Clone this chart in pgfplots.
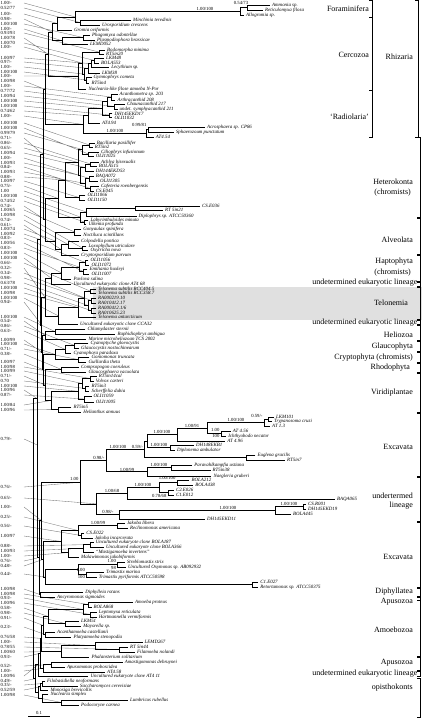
\documentclass[border=0pt]{standalone}
\usepackage{fontspec}
\setmainfont{Liberation Serif}
\usepackage{pgfplots}
\pgfplotsset{compat=1.18}
\newcommand\ftax{\fontsize{4.9}{5.5}\selectfont\itshape}
\newcommand\fsup{\fontsize{4.7}{5.5}\selectfont}
\newcommand\fgrp{\fontsize{8}{9}\selectfont}
\tikzset{tax/.style={anchor=west,inner sep=0pt,font=\ftax},
 sup/.style={anchor=west,inner sep=0pt,font=\fsup},
 brl/.style={inner sep=0.4pt,font=\fsup},
 grp/.style={anchor=east,inner sep=0pt,font=\fgrp}}
\newcommand\tx[3]{\node[tax] at (axis cs:#2,#1) {#3};}
\newcommand\sv[2]{\node[sup] at (axis cs:0.5,#1) {#2};}
\newcommand\brl[4]{\node[brl,anchor=#4] at (axis cs:#1,#2) {#3};}
\newcommand\gr[3]{\node[grp] at (axis cs:#1,#2) {#3};}
\begin{document}
\begin{tikzpicture}
\begin{axis}[scale only axis, width=422pt, height=718pt,
  xmin=0, xmax=422, ymin=0, ymax=718, y dir=reverse,
  hide axis, clip=false, unbounded coords=jump]
\addplot[draw=none] coordinates {(0,0)(422,718)};
% Telonemia band
\addplot[fill=black!12,draw=none] coordinates {(93,287)(422,287)(422,320)(93,320)} --cycle;
% leader lines
\addplot[black!55, line width=0.35pt] coordinates {
(24,3)(75,16.9)(nan,nan)(24,8)(80,22.5)(nan,nan)(24,14)(57,23.4)(nan,nan)
(24,19)(52,32.1)(nan,nan)(24,24)(83,37.5)(nan,nan)(24,29)(62,40.75)(nan,nan)
(24,33)(98.8,52)(nan,nan)(24,38)(48,54.1)(nan,nan)(24,43)(94.6,60.5)(nan,nan)
(24,47)(82.2,63.1)(nan,nan)(24,58)(91.5,63.75)(nan,nan)(24,62)(88.4,68.4)(nan,nan)
(24,67)(84.2,74.2)(nan,nan)(24,72)(86.3,80)(nan,nan)(24,76)(78,76.05)(nan,nan)
(24,81)(45,89.3)(nan,nan)(24,86)(111.3,97)(nan,nan)(24,91)(107.1,101.75)(nan,nan)
(24,96)(114.4,106.5)(nan,nan)(24,101)(101.9,108.4)(nan,nan)(24,106)(109.2,115)(nan,nan)
(24,111)(88.4,115.7)(nan,nan)(24,116)(83.2,124.5)(nan,nan)(24,123)(89.4,145)(nan,nan)
(24,128)(88.4,154)(nan,nan)(24,133)(82.2,149.5)(nan,nan)(24,138)(43.3,154.5)(nan,nan)
(24,143)(90.5,164)(nan,nan)(24,148)(78,162.5)(nan,nan)(24,153)(85.3,167.5)(nan,nan)
(24,158)(89.4,178.5)(nan,nan)(24,163)(80.1,175.5)(nan,nan)(24,167)(90.5,188.5)(nan,nan)
(24,172)(85.3,183.5)(nan,nan)(24,177)(64.8,180)(nan,nan)(24,181)(79,197.5)(nan,nan)
(24,186)(58.2,198.5)(nan,nan)(24,191)(86.3,212)(nan,nan)(24,196)(80.1,217)(nan,nan)
(24,201)(84.2,222)(nan,nan)(24,206)(45,219.7)(nan,nan)(24,210)(74.7,232)(nan,nan)
(24,215)(82.2,248)(nan,nan)(24,220)(68.1,244.5)(nan,nan)(24,225)(61.5,249.75)(nan,nan)
(24,229)(54.9,240.9)(nan,nan)(24,234)(40.7,239.7)(nan,nan)(24,238)(85.3,262.5)(nan,nan)
(24,243)(83.2,271.5)(nan,nan)(24,248)(79,267)(nan,nan)(24,253)(61.5,273)(nan,nan)
(24,258)(51.6,278.5)(nan,nan)(24,263)(90,291)(nan,nan)(24,268)(45,297.2)(nan,nan)
(24,273)(91,300.5)(nan,nan)(24,278)(84,298.25)(nan,nan)(24,283)(88,305.5)(nan,nan)
(24,288)(91,310.5)(nan,nan)(24,293)(78,307.6)(nan,nan)(24,298)(58.2,315.8)(nan,nan)
(24,302)(41.6,324.85)(nan,nan)(24,317)(54.9,331.5)(nan,nan)(24,321)(45,335.25)(nan,nan)
(24,326)(74.7,345.5)(nan,nan)(24,331)(64.8,349.25)(nan,nan)(24,340)(42.4,352.5)(nan,nan)
(24,344)(54.9,354.4)(nan,nan)(24,349)(78,359.5)(nan,nan)(24,354)(61.5,369.5)(nan,nan)
(24,362)(43.3,369.7)(nan,nan)(24,367)(90.5,378.5)(nan,nan)(24,371)(82.2,383.5)(nan,nan)
(24,376)(45,385)(nan,nan)(24,381)(85.3,388.5)(nan,nan)(24,386)(78,391.25)(nan,nan)
(24,390)(37.3,398.65)(nan,nan)(24,395)(84.2,399)(nan,nan)(24,405)(51.6,400.4)(nan,nan)
(24,410)(58.2,409.5)(nan,nan)(24,439)(37.3,445)(nan,nan)(24,487)(80.1,482.2)(nan,nan)
(24,498)(96.7,503.9)(nan,nan)(24,507)(41.6,520.75)(nan,nan)(24,517)(78,530.5)(nan,nan)
(24,526)(81.1,535.5)(nan,nan)(24,536)(61.5,541.55)(nan,nan)(24,546)(90.5,544.5)(nan,nan)
(24,551)(83.2,548.25)(nan,nan)(24,556)(68.1,552.6)(nan,nan)(24,561)(39,557.6)(nan,nan)
(24,566)(43.3,559.3)(nan,nan)(24,574)(45,577)(nan,nan)(24,589)(39.9,594.5)(nan,nan)
(24,594)(88.4,604.5)(nan,nan)(24,598)(83.2,609.5)(nan,nan)(24,603)(90.5,614.5)(nan,nan)
(24,608)(48.3,616.5)(nan,nan)(24,613)(64.8,623.5)(nan,nan)(24,618)(43.3,625.5)(nan,nan)
(24,627)(45,634.5)(nan,nan)(24,637)(41.6,638.45)(nan,nan)(24,642)(95.7,645.75)(nan,nan)
(24,647)(119.6,649.5)(nan,nan)(24,652)(61.5,651.4)(nan,nan)(24,657)(39.9,653.35)(nan,nan)
(24,666)(51.6,664.5)(nan,nan)(24,671)(43.3,668.25)(nan,nan)(24,676)(38.1,664.7)(nan,nan)
(24,681)(35.6,678.6)(nan,nan)(24,685)(42.4,683.5)(nan,nan)(24,690)(40.7,686.75)(nan,nan)
(24,695)(61.5,702.5)
};
% tree
\addplot[black, line width=0.6pt] coordinates {
(270,5)(247,5)(247,10)(263,10)(nan,nan)
(247,7.5)(240,7.5)(240,15)(244,15)(nan,nan)
(131,20)(80,20)(80,25)(100,25)(nan,nan)
(240,11.25)(75,11.25)(75,22.5)(80,22.5)(nan,nan)
(75,16.9)(57,16.9)(57,30)(72,30)(nan,nan)
(90,35)(83,35)(83,40)(95,40)(nan,nan)
(83,37.5)(62,37.5)(62,44)(88,44)(nan,nan)
(57,23.4)(52,23.4)(52,40.75)(62,40.75)(nan,nan)
(105,50)(98.8,50)(98.8,54)(104,54)(nan,nan)
(104,58)(94.6,58)(94.6,63)(98.8,63)(nan,nan)
(94.6,60.5)(91.5,60.5)(91.5,67)(109.2,67)(nan,nan)
(91.5,63.75)(88.4,63.75)(88.4,73)(99.8,73)(nan,nan)
(91.5,77)(86.3,77)(86.3,83)(89.4,83)(nan,nan)
(88.4,68.4)(84.2,68.4)(84.2,80)(86.3,80)(nan,nan)
(98.8,52)(82.2,52)(82.2,74.2)(84.2,74.2)(nan,nan)
(82.2,63.1)(78,63.1)(78,89)(86.3,89)(nan,nan)
(52,32.1)(48,32.1)(48,76.05)(78,76.05)(nan,nan)
(117.5,94)(111.3,94)(111.3,100)(115.4,100)(nan,nan)
(124.8,104)(114.4,104)(114.4,109)(117.5,109)(nan,nan)
(111.3,97)(107.1,97)(107.1,106.5)(114.4,106.5)(nan,nan)
(112.3,113)(109.2,113)(109.2,117)(112.3,117)(nan,nan)
(107.1,101.75)(101.9,101.75)(101.9,115)(109.2,115)(nan,nan)
(101.9,108.4)(88.4,108.4)(88.4,123)(99.8,123)(nan,nan)
(205,127)(148,127)(148,132)(173.8,132)(nan,nan)
(148,129.5)(146.5,129.5)(146.5,137)(153.7,137)(nan,nan)
(88.4,115.7)(83.2,115.7)(83.2,133.25)(146.5,133.25)(nan,nan)
(48,54.1)(45,54.1)(45,124.5)(83.2,124.5)(nan,nan)
(94.6,143)(89.4,143)(89.4,147)(92.6,147)(nan,nan)
(98.8,152)(88.4,152)(88.4,156)(93.6,156)(nan,nan)
(89.4,145)(82.2,145)(82.2,154)(88.4,154)(nan,nan)
(98.8,162)(90.5,162)(90.5,166)(96.7,166)(nan,nan)
(90.5,164)(85.3,164)(85.3,171)(93.6,171)(nan,nan)
(93.6,176)(89.4,176)(89.4,181)(97.8,181)(nan,nan)
(98.8,186)(90.5,186)(90.5,191)(93.6,191)(nan,nan)
(89.4,178.5)(85.3,178.5)(85.3,188.5)(90.5,188.5)(nan,nan)
(85.3,167.5)(80.1,167.5)(80.1,183.5)(85.3,183.5)(nan,nan)
(82.2,149.5)(78,149.5)(78,175.5)(80.1,175.5)(nan,nan)
(85.3,195)(79,195)(79,200)(85.3,200)(nan,nan)
(78,162.5)(64.8,162.5)(64.8,197.5)(79,197.5)(nan,nan)
(200,206)(135,206)(135,210)(163,210)(nan,nan)
(135,208)(86.3,208)(86.3,216)(136.5,216)(nan,nan)
(88.4,220)(84.2,220)(84.2,224)(86.3,224)(nan,nan)
(86.3,212)(80.1,212)(80.1,222)(84.2,222)(nan,nan)
(64.8,180)(58.2,180)(58.2,217)(80.1,217)(nan,nan)
(81.1,229)(74.7,229)(74.7,235)(81.1,235)(nan,nan)
(86.3,246)(82.2,246)(82.2,250)(88.4,250)(nan,nan)
(79,241)(68.1,241)(68.1,248)(82.2,248)(nan,nan)
(68.1,244.5)(61.5,244.5)(61.5,255)(79,255)(nan,nan)
(74.7,232)(54.9,232)(54.9,249.75)(61.5,249.75)(nan,nan)
(58.2,198.5)(45,198.5)(45,240.9)(54.9,240.9)(nan,nan)
(88.4,260)(85.3,260)(85.3,265)(89.4,265)(nan,nan)
(87.4,269)(83.2,269)(83.2,274)(89.4,274)(nan,nan)
(85.3,262.5)(79,262.5)(79,271.5)(83.2,271.5)(nan,nan)
(79,267)(61.5,267)(61.5,279)(71.4,279)(nan,nan)
(61.5,273)(51.6,273)(51.6,284)(71.4,284)(nan,nan)
(96,289)(90,289)(90,293)(96,293)(nan,nan)
(96,298)(91,298)(91,303)(96,303)(nan,nan)
(96,308)(91,308)(91,313)(96,313)(nan,nan)
(91,300.5)(88,300.5)(88,310.5)(91,310.5)(nan,nan)
(90,291)(84,291)(84,305.5)(88,305.5)(nan,nan)
(84,298.25)(78,298.25)(78,317)(96,317)(nan,nan)
(78,307.6)(58.2,307.6)(58.2,324)(78,324)(nan,nan)
(51.6,278.5)(45,278.5)(45,315.8)(58.2,315.8)(nan,nan)
(85.3,329)(54.9,329)(54.9,334)(115.4,334)(nan,nan)
(54.9,331.5)(45,331.5)(45,339)(86.3,339)(nan,nan)
(88.4,343)(74.7,343)(74.7,348)(79,348)(nan,nan)
(74.7,345.5)(64.8,345.5)(64.8,353)(71.4,353)(nan,nan)
(89.4,357)(78,357)(78,362)(86.3,362)(nan,nan)
(64.8,349.25)(54.9,349.25)(54.9,359.5)(78,359.5)(nan,nan)
(79,367)(61.5,367)(61.5,372)(86.3,372)(nan,nan)
(96.7,376)(90.5,376)(90.5,381)(93.6,381)(nan,nan)
(89.4,386)(85.3,386)(85.3,391)(89.4,391)(nan,nan)
(90.5,378.5)(82.2,378.5)(82.2,388.5)(85.3,388.5)(nan,nan)
(91.5,396)(84.2,396)(84.2,402)(93.6,402)(nan,nan)
(82.2,383.5)(78,383.5)(78,399)(84.2,399)(nan,nan)
(71.4,407)(58.2,407)(58.2,412)(81.1,412)(nan,nan)
(78,391.25)(51.6,391.25)(51.6,409.5)(58.2,409.5)(nan,nan)
(61.5,369.5)(45,369.5)(45,400.4)(51.6,400.4)(nan,nan)
(54.9,354.4)(43.3,354.4)(43.3,385)(45,385)(nan,nan)
(45,335.25)(42.4,335.25)(42.4,369.7)(43.3,369.7)(nan,nan)
(45,297.2)(41.6,297.2)(41.6,352.5)(42.4,352.5)(nan,nan)
(45,89.3)(43.3,89.3)(43.3,219.7)(45,219.7)(nan,nan)
(43.3,154.5)(40.7,154.5)(40.7,324.85)(41.6,324.85)(nan,nan)
(274,417)(268,417)(268,421)(272,421)(nan,nan)
(268,419)(264,419)(264,426)(270,426)(nan,nan)
(230.7,431)(221.5,431)(221.5,436)(226.1,436)(nan,nan)
(264,422.5)(207.75,422.5)(207.75,433.5)(221.5,433.5)(nan,nan)
(207.75,428)(177.5,428)(177.5,441)(225.2,441)(nan,nan)
(194,445)(170.2,445)(170.2,450)(174.8,450)(nan,nan)
(177.5,434.5)(147.5,434.5)(147.5,447.5)(170.2,447.5)(nan,nan)
(255.4,455)(246.25,455)(246.25,460)(285,460)(nan,nan)
(147.5,441)(144,441)(144,457.5)(246.25,457.5)(nan,nan)
(192.2,465)(171.1,465)(171.1,470)(210.5,470)(nan,nan)
(171.1,467.5)(147.5,467.5)(147.5,476)(211.4,476)(nan,nan)
(144,449.25)(106.1,449.25)(106.1,471.75)(147.5,471.75)(nan,nan)
(189.4,480)(177.5,480)(177.5,485)(193.1,485)(nan,nan)
(173.8,490)(168.3,490)(168.3,495)(173.8,495)(nan,nan)
(177.5,482.5)(159.2,482.5)(159.2,492.5)(168.3,492.5)(nan,nan)
(159.2,487.5)(126.9,487.5)(126.9,499)(335,499)(nan,nan)
(306,504)(303,504)(303,509)(306,509)(nan,nan)
(303,506.5)(275,506.5)(275,514)(291,514)(nan,nan)
(275,510.25)(119.6,510.25)(119.6,519)(205,519)(nan,nan)
(126.9,493.25)(96.7,493.25)(96.7,514.6)(119.6,514.6)(nan,nan)
(106.1,460.5)(80.1,460.5)(80.1,503.9)(96.7,503.9)(nan,nan)
(124.8,523)(117.5,523)(117.5,528)(127.9,528)(nan,nan)
(84.2,533)(81.1,533)(81.1,538)(92.6,538)(nan,nan)
(117.5,525.5)(78,525.5)(78,535.5)(81.1,535.5)(nan,nan)
(93.6,542)(90.5,542)(90.5,547)(104,547)(nan,nan)
(90.5,544.5)(83.2,544.5)(83.2,552)(93.6,552)(nan,nan)
(83.2,548.25)(68.1,548.25)(68.1,557)(79,557)(nan,nan)
(78,530.5)(61.5,530.5)(61.5,552.6)(68.1,552.6)(nan,nan)
(124.8,562)(117.5,562)(117.5,567)(125.8,567)(nan,nan)
(104,572)(86.3,572)(86.3,577)(96.7,577)(nan,nan)
(117.5,564.5)(78,564.5)(78,574.5)(86.3,574.5)(nan,nan)
(258.2,582)(252.7,582)(252.7,587)(258.2,587)(nan,nan)
(78,569.5)(45,569.5)(45,584.5)(252.7,584.5)(nan,nan)
(61.5,541.55)(43.3,541.55)(43.3,577)(45,577)(nan,nan)
(80.1,482.2)(41.6,482.2)(41.6,559.3)(43.3,559.3)(nan,nan)
(83.2,592)(39.9,592)(39.9,597)(54.9,597)(nan,nan)
(41.6,520.75)(39,520.75)(39,594.5)(39.9,594.5)(nan,nan)
(40.7,239.7)(37.3,239.7)(37.3,557.6)(39,557.6)(nan,nan)
(133,602)(88.4,602)(88.4,607)(91.5,607)(nan,nan)
(96.7,612)(90.5,612)(90.5,617)(96.7,617)(nan,nan)
(88.4,604.5)(83.2,604.5)(83.2,614.5)(90.5,614.5)(nan,nan)
(79,621)(64.8,621)(64.8,626)(81.1,626)(nan,nan)
(83.2,609.5)(48.3,609.5)(48.3,623.5)(64.8,623.5)(nan,nan)
(54.9,632)(45,632)(45,637)(71.4,637)(nan,nan)
(48.3,616.5)(43.3,616.5)(43.3,634.5)(45,634.5)(nan,nan)
(127.9,647)(119.6,647)(119.6,652)(135,652)(nan,nan)
(142.5,642)(95.7,642)(95.7,649.5)(119.6,649.5)(nan,nan)
(95.7,645.75)(61.5,645.75)(61.5,657)(89.4,657)(nan,nan)
(43.3,625.5)(41.6,625.5)(41.6,651.4)(61.5,651.4)(nan,nan)
(122.7,662)(51.6,662)(51.6,667)(64.8,667)(nan,nan)
(51.6,664.5)(43.3,664.5)(43.3,672)(105,672)(nan,nan)
(41.6,638.45)(39.9,638.45)(39.9,668.25)(43.3,668.25)(nan,nan)
(39.9,653.35)(38.1,653.35)(38.1,676)(88.4,676)(nan,nan)
(45,681)(42.4,681)(42.4,686)(78,686)(nan,nan)
(42.4,683.5)(40.7,683.5)(40.7,690)(48.3,690)(nan,nan)
(127.9,700)(61.5,700)(61.5,705)(79,705)(nan,nan)
(48.3,694)(42.4,694)(42.4,702.5)(61.5,702.5)(nan,nan)
(40.7,686.75)(38.1,686.75)(38.1,698.25)(42.4,698.25)(nan,nan)
(38.1,664.7)(35.6,664.7)(35.6,692.5)(38.1,692.5)(nan,nan)
(37.3,398.65)(33,398.65)(33,678.6)(35.6,678.6)
};
% brackets
\addplot[black, line width=0.6pt] coordinates {
(369,0.5)(372,0.5)(372,17)(369,17)(nan,nan)
(372,17.5)(372,90)(369,90)(nan,nan)
(372,90.5)(372,137)(369,137)(nan,nan)
(415,0.5)(418,0.5)(418,137)(415,137)(nan,nan)
(417,137.5)(420,137.5)(420,217.5)(417,217.5)(nan,nan)
(417,218.5)(420,218.5)(420,254.5)(417,254.5)(nan,nan)
(417,255.5)(420,255.5)(420,281.5)(417,281.5)(nan,nan)
(417,282.5)(420,282.5)(420,286.5)(417,286.5)(nan,nan)
(417,287.5)(420,287.5)(420,319.5)(417,319.5)(nan,nan)
(417,320.5)(420,320.5)(420,324.5)(417,324.5)(nan,nan)
(417,325.5)(420,325.5)(420,340)(417,340)(nan,nan)
(417,341)(420,341)(420,351.5)(417,351.5)(nan,nan)
(417,352.5)(420,352.5)(420,362)(417,362)(nan,nan)
(417,363)(420,363)(420,372.5)(417,372.5)(nan,nan)
(417,373.5)(420,373.5)(420,412.5)(417,412.5)(nan,nan)
(417,413.5)(420,413.5)(420,476.5)(417,476.5)(nan,nan)
(417,477.5)(420,477.5)(420,521.5)(417,521.5)(nan,nan)
(417,522.5)(420,522.5)(420,587.5)(417,587.5)(nan,nan)
(417,588.5)(420,588.5)(420,596)(417,596)(nan,nan)
(417,597.5)(420,597.5)(420,600)(417,600)(nan,nan)
(417,600.5)(420,600.5)(420,656.5)(417,656.5)(nan,nan)
(417,657.5)(420,657.5)(420,670.5)(417,670.5)(nan,nan)
(417,671.5)(420,671.5)(420,676.5)(417,676.5)(nan,nan)
(417,678)(420,678)(420,717)(417,717)
};
% scale bar
\addplot[black, line width=0.6pt] coordinates {(28,716)(50,716)};
\node[brl,anchor=south] at (axis cs:39,715) {0.1};
% group labels
\gr{369}{8.5}{Foraminifera}
\gr{369}{55}{Cercozoa}
\gr{369}{117}{‘Radiolaria’}
\gr{413}{57}{Rhizaria}
\gr{413}{182}{Heterokonta}
\gr{411}{193}{(chromists)}
\gr{413}{240}{Alveolata}
\gr{413}{262}{Haptophyta}
\gr{411}{273}{(chromists)}
\gr{417.5}{282.5}{undetermined eukaryotic lineage}
\gr{408}{303}{Telonemia}
\gr{417.5}{322.5}{undetermined eukaryotic lineage}
\gr{413}{335}{Heliozoa}
\gr{413}{347}{Glaucophyta}
\gr{413}{357.5}{Cryptophyta (chromists)}
\gr{410}{367.5}{Rhodophyta}
\gr{413}{393}{Viridiplantae}
\gr{413}{447}{Excavata}
\gr{413}{496}{undertermed}
\gr{413}{506}{lineage}
\gr{413}{557}{Excavata}
\gr{413}{592}{Diphyllatea}
\gr{413}{602}{Apusozoa}
\gr{413}{630}{Amoebozoa}
\gr{413}{663}{Apusozoa}
\gr{417.5}{673.5}{undetermined eukaryotic lineage}
\gr{413}{688}{opisthokonts}
% branch support labels on the tree
\brl{205}{11}{1.00/100}{south}
\brl{241}{5.5}{0.54/73}{south}
\brl{147}{127}{0.99/81}{south east}
\brl{115}{133}{1.00/100}{south}
\brl{263}{418}{0.59/-}{south east}
\brl{236}{422.5}{1.00/100}{south}
\brl{220}{432}{1.00}{south east}
\brl{220}{434}{100}{north east}
\brl{192}{428}{1.00/91}{south}
\brl{162}{434.5}{1.00/100}{south}
\brl{159}{447.5}{1.00/100}{south}
\brl{143.5}{449}{0.59/-}{south east}
\brl{118}{449.25}{1.00/100}{south}
\brl{159}{467.5}{1.00/100}{south}
\brl{127}{471.75}{1.00/99}{south}
\brl{105}{460}{0.98/-}{south east}
\brl{79}{481}{1.00}{south east}
\brl{176}{480}{1.00/100}{south east}
\brl{167}{494}{0.78/68}{north east}
\brl{143}{487.5}{1.00/100}{south}
\brl{112}{493.25}{1.00/68}{south}
\brl{228}{510.25}{1.00/100}{south}
\brl{289}{506.5}{1.00/100}{south}
\brl{108}{514.6}{0.98/-}{south}
\brl{98}{525.5}{1.00/99}{south}
\brl{116.5}{563}{1.00}{south east}
\brl{116.5}{566}{98}{north east}
\brl{85.5}{572}{1.00}{south east}
\brl{85.5}{575}{100}{north east}
% support values column
\sv{3}{1.00/-}\sv{8}{0.52/77}\sv{14}{1.00/-}\sv{19}{0.98/-}\sv{24}{1.00/100}
\sv{29}{1.00/-}\sv{33}{0.93/93}\sv{38}{1.00/78}\sv{43}{1.00/70}\sv{47}{1.00/-}
\sv{58}{1.00/97}\sv{62}{0.97/-}\sv{67}{1.00/-}\sv{72}{1.00/100}\sv{76}{1.00/-}
\sv{81}{1.00/98}\sv{86}{1.00/-}\sv{91}{0.77/72}\sv{96}{1.00/94}\sv{101}{1.00/100}
\sv{106}{1.00/100}\sv{111}{0.74/62}\sv{116}{1.00/-}\sv{123}{1.00/100}\sv{128}{1.00/100}
\sv{133}{0.99/79}\sv{138}{0.71/-}\sv{143}{0.86/-}\sv{148}{0.65/-}\sv{153}{1.00/94}
\sv{158}{1.00/-}\sv{163}{1.00/93}\sv{167}{0.84/-}\sv{172}{1.00/93}\sv{177}{0.88/-}
\sv{181}{1.00/97}\sv{186}{0.75/-}\sv{191}{1.00}\sv{196}{1.00/100}\sv{201}{0.74/52}
\sv{206}{0.74/-}\sv{210}{1.00/65}\sv{215}{1.00/98}\sv{220}{0.74/-}\sv{225}{0.61/-}
\sv{229}{1.00/74}\sv{234}{1.00/92}\sv{238}{0.83/-}\sv{243}{1.00/56}\sv{248}{0.83/-}
\sv{253}{1.00/100}\sv{258}{1.00/100}\sv{263}{0.66/-}\sv{268}{0.32/-}\sv{273}{0.34/-}
\sv{278}{0.98/-}\sv{283}{0.63/78}\sv{288}{1.00/100}\sv{293}{1.00/98}\sv{298}{1.00/100}
\sv{302}{0.94/-}\sv{317}{1.00/100}\sv{321}{0.54/-}\sv{326}{0.86/-}\sv{331}{0.63/-}
\sv{340}{1.00/99}\sv{344}{1.00/100}\sv{349}{0.71/-}\sv{354}{0.38/-}\sv{362}{1.00/97}
\sv{367}{1.00/98}\sv{371}{1.00/99}\sv{376}{0.71/-}\sv{381}{0.70}\sv{386}{1.00/100}
\sv{390}{1.00/96}\sv{395}{0.87/-}\sv{405}{1.00/84}\sv{410}{1.00/96}\sv{439}{0.79/-}
\sv{487}{0.76/-}\sv{498}{0.65/-}\sv{507}{1.00/-}\sv{517}{0.25/-}\sv{526}{0.56/-}
\sv{536}{1.00/97}\sv{546}{0.88/-}\sv{551}{1.00/93}\sv{556}{1.00/-}\sv{561}{0.76/-}
\sv{566}{0.48/-}\sv{574}{0.44/-}\sv{589}{1.00/98}\sv{594}{1.00/98}\sv{598}{0.93/-}
\sv{603}{1.00/96}\sv{608}{0.58/-}\sv{613}{0.98/-}\sv{618}{0.91/-}\sv{627}{0.23/-}
\sv{637}{0.76/58}\sv{642}{1.00/-}\sv{647}{0.78/55}\sv{652}{1.00/60}\sv{657}{0.93/-}
\sv{666}{0.52/-}\sv{671}{1.00/-}\sv{676}{1.00/96}\sv{681}{0.49/-}\sv{685}{0.35/-}
\sv{690}{0.52/59}\sv{695}{1.00/98}
% taxa
\tx{5}{272}{Ammonia sp.}
\tx{10}{265}{Reticulomyxa filosa}
\tx{15}{246}{Allogromia sp.}
\tx{20}{133}{Minchinia teredinis}
\tx{25}{102}{Urosporidium crescens}
\tx{30}{74}{Gromia oviformis}
\tx{35}{92}{Phagomyxa odontellae}
\tx{40}{97}{Plasmodiophora brassicae}
\tx{44}{90}{LEMD052}
\tx{50}{107}{Bodomorpha minima}
\tx{54}{106}{RT5in20}
\tx{58}{106}{LKM48}
\tx{63}{100.8}{BOLA553}
\tx{67}{111.2}{Lecythium sp.}
\tx{73}{101.8}{LKM38}
\tx{77}{93.5}{Gymnophrys cometa}
\tx{83}{91.4}{RT5in4}
\tx{89}{88.3}{Nuclearia-like filose amoeba N-Por}
\tx{94}{119.5}{Acanthometra sp. 203}
\tx{100}{117.4}{Arthracanthid 208}
\tx{104}{126.8}{Chaunacanthid 217}
\tx{109}{119.5}{undet. symphyacanthid 211}
\tx{113.5}{114.3}{DH145EKD17}
\tx{117.5}{114.3}{OLI11032}
\tx{123}{101.8}{AT4.94}
\tx{127}{207}{Acrosphaera sp. CP86}
\tx{132}{175.8}{Sphaerozoum punctatum}
\tx{137}{155.7}{AT4.54}
\tx{143}{96.6}{Bacillaria paxillifer}
\tx{147}{94.6}{RT5in2}
\tx{152}{100.8}{Ciliophrys infusionum}
\tx{156}{95.6}{OLI11025}
\tx{162}{100.8}{Achlya bisexualis}
\tx{166}{98.7}{BOLA515}
\tx{171}{95.6}{DH144EKD53}
\tx{176}{95.6}{BAQA072}
\tx{181}{99.8}{OLI11305}
\tx{186}{100.8}{Cafeteria roenbergensis}
\tx{191}{95.6}{CS.E045}
\tx{195}{87.3}{OLI11066}
\tx{200}{87.3}{OLI11150}
\tx{206}{202}{CS.E036}
\tx{210}{165}{RT 5in21}
\tx{216}{138.5}{Diplophrys sp. ATCC50360}
\tx{220}{90.4}{Labyrinthuloides minuta}
\tx{224}{88.3}{Ulkenia profunda}
\tx{229}{83.1}{Gonyaulax spinifera}
\tx{235}{83.1}{Noctiluca scintillans}
\tx{241}{81}{Colpodella pontica}
\tx{246}{88.3}{Loxophyllum utriculare}
\tx{250}{90.4}{Oxytricha nova}
\tx{255}{81}{Cryptosporidium parvum}
\tx{260}{90.4}{OLI11056}
\tx{265}{91.4}{OLI11072}
\tx{269}{89.4}{Emiliania huxleyi}
\tx{274}{91.4}{OLI11007}
\tx{279}{73.4}{Pavlova salina}
\tx{284}{73.4}{Uncultured eukaryotic clone AT4 68}
\tx{289}{98}{Telonema subtilis RCC404.5}
\tx{293}{98}{Telonema subtilis RCC358.7}
\tx{298}{98}{RA000219.10}
\tx{303}{98}{RA010412.17}
\tx{308}{98}{RA000412.1/6}
\tx{313}{98}{RA010625.23}
\tx{317}{98}{Telonema antarcticum}
\tx{324}{80}{Uncultured eukaryotic clone CCA32}
\tx{329}{87.3}{Chlamydaster sternii}
\tx{334}{117.4}{Raphidiophrys ambigua}
\tx{339}{88.3}{Marine microheliozoan TCS 2002}
\tx{343}{90.4}{Cyanoptyche gloeocystis}
\tx{348}{81}{Glaucocystis nostochinearum}
\tx{353}{73.4}{Cyanophora paradoxa}
\tx{357}{91.4}{Goniomonas truncata}
\tx{362}{88.3}{Guillardia theta}
\tx{367}{81}{Compsopogon coeruleus}
\tx{372}{88.3}{Glaucosphaera vacuolata}
\tx{376}{98.7}{RT5in14cal}
\tx{381}{95.6}{Volvox carteri}
\tx{386}{91.4}{RT5in3}
\tx{391}{91.4}{Scherffelia dubia}
\tx{396}{93.5}{OLI11059}
\tx{402}{95.6}{OLI11005}
\tx{407}{73.4}{RT5in5}
\tx{412}{83.1}{Helianthus annuus}
\tx{417}{276}{LKM101}
\tx{421}{274}{Trypanosoma cruzi}
\tx{426}{272}{AT 1.3}
\tx{431}{232.7}{AT 4.56}
\tx{436}{228.1}{Ichthyobodo necator}
\tx{441}{227.2}{AT 4.96}
\tx{445}{196}{DH148EKB1}
\tx{450}{176.8}{Diplonema ambulator}
\tx{455}{257.4}{Euglena gracilis}
\tx{460}{287}{RT5in7}
\tx{465}{194.2}{Paravahlkampfia ustiana}
\tx{470}{212.5}{RT5in38}
\tx{476}{213.4}{Naegleria gruberi}
\tx{480}{191.4}{BOLA212}
\tx{485}{195.1}{BOLA438}
\tx{490}{175.8}{C2.E026}
\tx{495}{175.8}{C1.E012}
\tx{499}{337}{BAQA065}
\tx{504}{308}{CS.R001}
\tx{509}{308}{DH145EKD19}
\tx{514}{293}{BOLA445}
\tx{519}{207}{DH145EKD11}
\tx{523}{126.8}{Jakoba libera}
\tx{528}{129.9}{Reclinomonas americana}
\tx{533}{86.2}{CS.E022}
\tx{538}{94.6}{Jakoba incarcerata}
\tx{542}{95.6}{Uncultured eukaryote clone BOLA187}
\tx{547}{106}{Uncultured eukaryote clone BOLA366}
\tx{552}{95.6}{“Mastigamoeba invertens”}
\tx{557}{81}{Malawimonas jakobiformis}
\tx{562}{126.8}{Streblomastix strix}
\tx{567}{127.8}{Uncultured Oxymonas sp. AB092932}
\tx{572}{106}{Trimastix marina}
\tx{577}{98.7}{Trimastix pyriformis ATCC50598}
\tx{582}{260.2}{C1.E027}
\tx{587}{260.2}{Retortamonas sp. ATCC50375}
\tx{592}{85.2}{Diphylleia rotans}
\tx{597}{56.9}{Ancyromonas sigmoides}
\tx{602}{135}{Amoeba proteus}
\tx{607}{93.5}{BOLA868}
\tx{612}{98.7}{Leptomyxa reticulata}
\tx{617}{98.7}{Hartmannella vermiformis}
\tx{621}{81}{LKM51}
\tx{626}{83.1}{Mayorella sp.}
\tx{632}{56.9}{Acanthamoeba castellanii}
\tx{637}{73.4}{Platyamoeba stenopodia}
\tx{642}{144.5}{LEMD267}
\tx{647}{129.9}{RT 5in44}
\tx{652}{137}{Filamoeba nolandi}
\tx{657}{91.4}{Phalansterium solitarium}
\tx{662}{124.7}{Amastigomonas debruynei}
\tx{667}{66.8}{Apusomonas proboscidea}
\tx{672}{107}{AT4.58}
\tx{676}{90.4}{Uncultured eukaryote clone AT4 11}
\tx{681}{47}{Filobasidiella neoformans}
\tx{686}{80}{Saccharomyces cerevisiae}
\tx{690}{50.3}{Monosiga brevicollis}
\tx{694.5}{50.3}{Nuclearia simplex}
\tx{700}{129.9}{Lumbricus rubellus}
\tx{705}{81}{Podocoryne carnea}
\end{axis}
\end{tikzpicture}
\end{document}
